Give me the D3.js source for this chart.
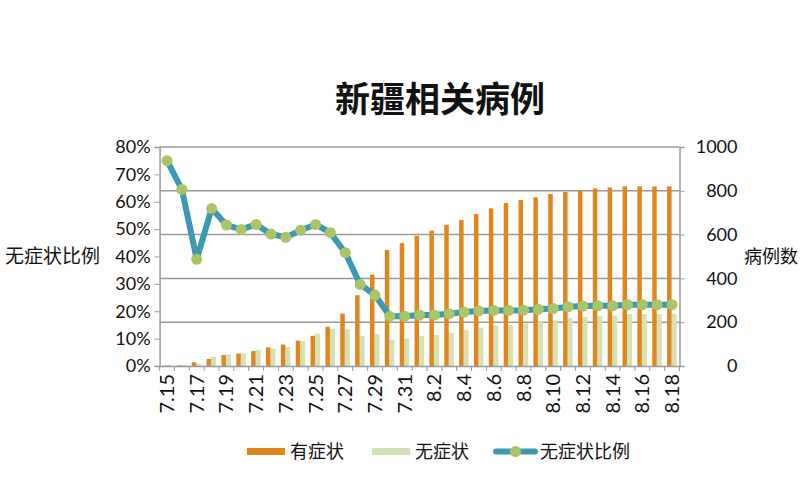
<!DOCTYPE html>
<html><head><meta charset="utf-8">
<script src="https://cdn.jsdelivr.net/npm/d3@7"></script>
<style>body{margin:0;background:#fff;}svg{display:block;}</style>
</head><body>
<svg id="c" width="800" height="500"></svg>
<script>
const dates = ["7.15","7.16","7.17","7.18","7.19","7.20","7.21","7.22","7.23","7.24","7.25","7.26","7.27","7.28","7.29","7.30","7.31","8.1","8.2","8.3","8.4","8.5","8.6","8.7","8.8","8.9","8.10","8.11","8.12","8.13","8.14","8.15","8.16","8.17","8.18"];
const symptomatic = [2,3,17,32,50,57,68,85,98,116,138,179,239,323,417,530,561,595,618,645,667,694,720,744,758,770,785,795,800,811,815,820,820,820,820];
const asymptomatic = [6,5,11,43,53,57,73,79,87,114,148,170,168,137,146,118,125,136,141,152,164,175,184,188,194,201,209,219,224,229,230,237,237,237,237];
const asymRatio = [0.75,0.645,0.39,0.575,0.515,0.499,0.517,0.482,0.47,0.496,0.517,0.487,0.414,0.298,0.259,0.182,0.182,0.186,0.186,0.191,0.197,0.201,0.203,0.203,0.204,0.207,0.21,0.216,0.219,0.22,0.22,0.224,0.224,0.224,0.224];
const leftTicks = [0,0.1,0.2,0.3,0.4,0.5,0.6,0.7,0.8];
const rightTicks = [0,200,400,600,800,1000];
const xLabels = dates.filter((d,i)=>i%2===0);

const svg = d3.select("#c");
const L=159.6, R=679.5, T=147, B=366;
const fontNum = "Lato, 'Open Sans', sans-serif";
const fontCJK = "'Noto Sans CJK SC', sans-serif";

const x = d3.scaleBand().domain(dates).range([L,R]).padding(0);
const yL = d3.scaleLinear().domain([0,0.8]).range([B,T]);
const yR = d3.scaleLinear().domain([0,1000]).range([B,T]);

svg.append("g").selectAll("line").data(rightTicks.filter(d=>d>0)).join("line")
  .attr("x1",L).attr("x2",R).attr("y1",d=>yR(d)).attr("y2",d=>yR(d))
  .attr("stroke","#9a9a9a").attr("stroke-width",1.5);

const bw = x.bandwidth();
svg.append("g").selectAll("rect").data(dates).join("rect")
  .attr("x",d=>x(d)+bw/2-0.5).attr("width",5)
  .attr("y",(d,i)=>yR(asymptomatic[i])).attr("height",(d,i)=>B-yR(asymptomatic[i]))
  .attr("fill","#d3e2b4");
svg.append("g").selectAll("rect").data(dates).join("rect")
  .attr("x",d=>x(d)+bw/2-5).attr("width",4.5)
  .attr("y",(d,i)=>yR(symptomatic[i])).attr("height",(d,i)=>B-yR(symptomatic[i]))
  .attr("fill","#e0861f");

const axL = svg.append("g").attr("transform",`translate(${L},0)`)
  .call(d3.axisLeft(yL).tickValues(leftTicks).tickFormat(d3.format(".0%")).tickSize(5).tickPadding(4));
const axR = svg.append("g").attr("transform",`translate(${R},0)`)
  .call(d3.axisRight(yR).tickValues(rightTicks).tickFormat(d3.format("d")).tickSize(5).tickPadding(10));
[axL,axR].forEach(a=>{
  a.select(".domain").attr("stroke","#9a9a9a").attr("stroke-width",1.5);
  a.selectAll(".tick line").attr("stroke","#9a9a9a");
  a.selectAll("text").attr("font-family",fontNum).attr("font-size",18).attr("fill","#111");
});
axR.selectAll("text").attr("text-anchor","end").attr("dx","43");

const axB = svg.append("g").attr("transform",`translate(0,${B})`)
  .call(d3.axisBottom(x).tickValues(xLabels).tickSize(0).tickPadding(6));
axB.select(".domain").attr("stroke","#9a9a9a").attr("stroke-width",1.5);
axB.selectAll("text").attr("font-family",fontNum).attr("font-size",20).attr("fill","#111")
  .attr("transform","rotate(-90)").attr("text-anchor","end")
  .attr("x",-8).attr("y",0).attr("dy","0.35em").attr("dx",0);
svg.append("g").selectAll("line").data(dates.concat(["end"])).join("line")
  .attr("x1",(d,i)=>L+i*bw).attr("x2",(d,i)=>L+i*bw)
  .attr("y1",B).attr("y2",B+5).attr("stroke","#9a9a9a");

const line = d3.line().x((d,i)=>x(dates[i])+bw/2).y(d=>yL(d));
svg.append("path").datum(asymRatio).attr("d",line).attr("fill","none")
  .attr("stroke","#3b99b1").attr("stroke-width",6).attr("stroke-linejoin","round");
svg.append("g").selectAll("circle").data(asymRatio).join("circle")
  .attr("cx",(d,i)=>x(dates[i])+bw/2).attr("cy",d=>yL(d)).attr("r",5.5)
  .attr("fill","#a9c565");

svg.append("text").attr("x",440).attr("y",112).attr("text-anchor","middle")
  .attr("font-family",fontCJK).attr("font-weight","bold").attr("font-size",35).attr("fill","#111")
  .text("新疆相关病例");
svg.append("text").attr("x",100).attr("y",263).attr("text-anchor","end")
  .attr("font-family",fontCJK).attr("font-size",19).attr("fill","#111").text("无症状比例");
svg.append("text").attr("x",744).attr("y",263).attr("text-anchor","start")
  .attr("font-family",fontCJK).attr("font-size",18).attr("fill","#111").text("病例数");

const lg = svg.append("g");
lg.append("rect").attr("x",247).attr("y",448).attr("width",38).attr("height",7).attr("fill","#e0861f");
lg.append("text").attr("x",290).attr("y",458).attr("font-family",fontCJK).attr("font-size",18).attr("fill","#111").text("有症状");
lg.append("rect").attr("x",372).attr("y",448).attr("width",38).attr("height",7).attr("fill","#d3e2b4");
lg.append("text").attr("x",415).attr("y",458).attr("font-family",fontCJK).attr("font-size",18).attr("fill","#111").text("无症状");
lg.append("line").attr("x1",496).attr("x2",535).attr("y1",451.5).attr("y2",451.5).attr("stroke","#3b99b1").attr("stroke-width",6).attr("stroke-linecap","round");
lg.append("circle").attr("cx",515.5).attr("cy",451.5).attr("r",5.5).attr("fill","#a9c565");
lg.append("text").attr("x",540).attr("y",458).attr("font-family",fontCJK).attr("font-size",18).attr("fill","#111").text("无症状比例");
</script>
</body></html>
